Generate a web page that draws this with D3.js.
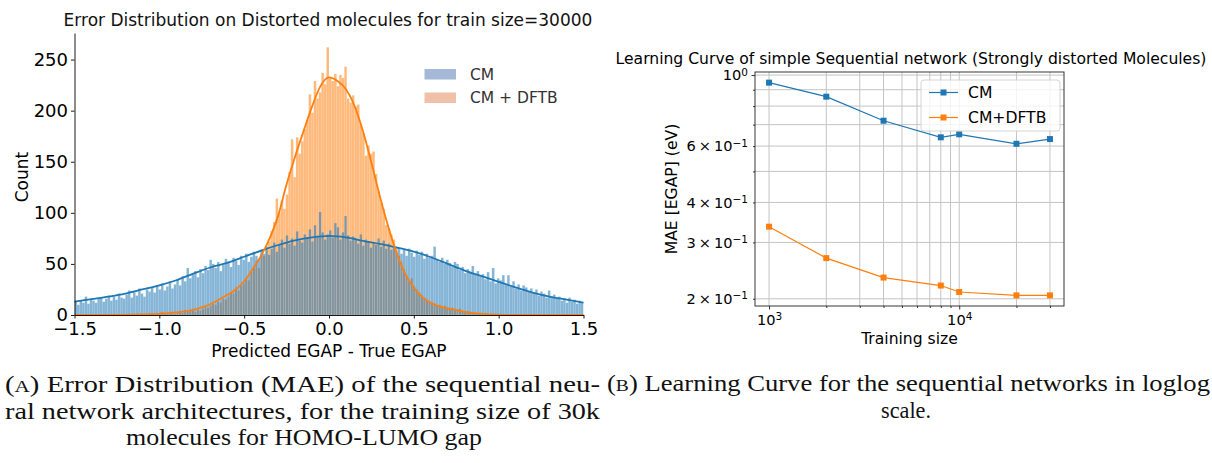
<!DOCTYPE html>
<html>
<head>
<meta charset="utf-8">
<script src="https://cdn.jsdelivr.net/npm/d3@7"></script>
<style>
  body { margin: 0; background: #fff; }
  svg { display: block; }
  text { font-family: "DejaVu Sans", sans-serif; }
  text.cap { font-family: "Liberation Serif", serif; fill: #111; }
</style>
</head>
<body>
<svg id="fig" width="1212" height="463"></svg>
<script>
// ---------- Error distribution histogram (train size 30000) ----------
const binStart = -1.5;
const binWidth = 0.015;

// counts per bin, CM model
const countsCM = [
  13, 10, 14, 12, 18, 11, 15, 14, 12, 16,
  17, 13, 16, 19, 14, 18, 15, 21, 17, 16,
  20, 24, 17, 22, 19, 26, 21, 18, 25, 23,
  27, 22, 29, 25, 31, 24, 28, 33, 26, 30,
  35, 29, 38, 33, 46, 36, 40, 43, 37, 45,
  41, 48, 44, 54, 50, 46, 52, 43, 49, 55,
  51, 47, 56, 53, 49, 58, 54, 60, 52, 57,
  62, 58, 55, 64, 60, 67, 59, 65, 71, 62,
  69, 74, 66, 78, 70, 75, 68, 82, 73, 71,
  79, 76, 84, 72, 88, 77, 101, 81, 74, 79,
  83, 76, 90, 86, 74, 81, 97, 78, 73, 77,
  75, 70, 79, 68, 74, 72, 66, 71, 69, 75,
  67, 73, 65, 70, 64, 68, 62, 66, 60, 64,
  58, 65, 61, 57, 63, 59, 62, 55, 60, 56,
  58, 67, 55, 52, 56, 50, 54, 51, 47, 52,
  50, 44, 47, 41, 45, 42, 48, 40, 43, 38,
  40, 35, 42, 33, 46, 31, 36, 34, 39, 30,
  39, 28, 33, 26, 30, 24, 29, 27, 23, 26,
  22, 25, 19, 23, 21, 17, 24, 18, 20, 16,
  18, 14, 16, 12, 17, 13, 15, 11, 14, 12
];

// counts per bin, CM + DFTB model
const countsDFTB = [
  0, 0, 0, 0, 0, 0, 0, 0, 0, 0,
  0, 0, 0, 0, 0, 0, 0, 0, 0, 0,
  0, 1, 0, 0, 1, 0, 1, 1, 0, 2,
  1, 1, 2, 0, 3, 1, 2, 3, 2, 1,
  3, 4, 2, 5, 3, 4, 6, 3, 5, 4,
  6, 8, 7, 9, 11, 10, 13, 12, 16, 15,
  18, 22, 21, 27, 24, 29, 31, 36, 34, 42,
  48, 53, 46, 60, 58, 64, 72, 82, 91, 114,
  100, 112, 104, 118, 140, 172, 135, 174, 158, 170,
  182, 191, 216, 198, 229, 212, 218, 237, 226, 262,
  233, 229, 236, 224, 235, 232, 243, 212, 208, 215,
  204, 206, 187, 178, 156, 166, 158, 160, 138, 121,
  110, 104, 88, 85, 79, 74, 67, 58, 52, 45,
  39, 33, 36, 28, 25, 22, 19, 17, 15, 13,
  12, 11, 9, 10, 8, 9, 7, 6, 7, 5,
  5, 6, 4, 3, 4, 2, 3, 2, 1, 2,
  1, 2, 0, 1, 1, 0, 1, 0, 0, 0,
  0, 0, 0, 0, 0, 0, 0, 0, 0, 0,
  0, 0, 0, 0, 0, 0, 0, 0, 0, 0,
  0, 0, 0, 0, 0, 0, 0, 0, 0, 0
];

// kernel density estimates, scaled to counts
const kdeGridCM = [-1.5, -1.4, -1.3, -1.2, -1.1, -1.0, -0.9, -0.8, -0.7, -0.6, -0.5,
  -0.4, -0.3, -0.2, -0.1, 0.0, 0.1, 0.2, 0.3, 0.4, 0.5,
  0.6, 0.7, 0.8, 0.9, 1.0, 1.1, 1.2, 1.3, 1.4, 1.5];
const kdeCM = [13, 15.5, 18, 21, 25, 29, 34, 40.5, 46.5, 51, 57,
  63, 68.5, 73, 76, 77.5, 76, 72.5, 69.5, 66, 62,
  56.5, 50, 43.5, 38, 32.5, 27, 22, 18, 15, 12];

const kdeGridDFTB = [-1.5, -1.3, -1.1, -1.0, -0.9, -0.8, -0.75, -0.7, -0.65, -0.6, -0.55,
  -0.5, -0.45, -0.4, -0.35, -0.3, -0.25, -0.2, -0.15, -0.1, -0.05, 0.0,
  0.05, 0.1, 0.15, 0.2, 0.25, 0.3, 0.35, 0.4, 0.45, 0.5, 0.55, 0.6,
  0.65, 0.7, 0.75, 0.8, 0.9, 1.0, 1.1, 1.3, 1.5];
const kdeDFTB = [0, 0.1, 0.5, 1.2, 2.5, 5, 7.5, 10.5, 15, 19.5, 25,
  33, 45, 58, 75, 97, 128, 155, 180, 204, 224, 232.5,
  229, 221, 205, 180, 149, 116, 86, 60, 40, 27, 17.5, 12,
  8.5, 6.5, 5, 3, 1.2, 0.4, 0.1, 0, 0];

const histTicksX = [-1.5, -1.0, -0.5, 0.0, 0.5, 1.0, 1.5];
const histTicksY = [0, 50, 100, 150, 200, 250];
const histSeries = ["CM", "CM + DFTB"];

// ---------- Learning curve ----------
const trainSizes = [1000, 2000, 4000, 8000, 10000, 20000, 30000];
const maeCM = [0.947, 0.856, 0.720, 0.639, 0.653, 0.610, 0.631];
const maeDFTB = [0.336, 0.268, 0.233, 0.220, 0.210, 0.205, 0.205];
const curveSeries = ["CM", "CM+DFTB"];
const xMajor = [1000, 10000];
const xMinor = [2000, 3000, 4000, 5000, 6000, 7000, 8000, 9000, 20000, 30000];
const yMajor = [1.0];
const yMinor = [0.2, 0.3, 0.4, 0.5, 0.6, 0.7, 0.8, 0.9];
const yMinorLabeled = [0.2, 0.3, 0.4, 0.6];

const svg = d3.select("#fig");
const tab = { blue: "#1f77b4", orange: "#ff7f0e" };

// ================= left panel =================
const A = { left: 74.5, right: 583.5, top: 33, bottom: 315 };
const x1 = d3.scaleLinear().domain([-1.5, 1.5]).range([A.left, A.right]);
const y1 = d3.scaleLinear().domain([0, 276]).range([A.bottom, A.top]);

const gA = svg.append("g");
gA.append("clipPath").attr("id", "clipA")
  .append("rect").attr("x", A.left).attr("y", A.top)
  .attr("width", A.right - A.left).attr("height", A.bottom - A.top);

function drawBars(counts, color) {
  gA.append("g").attr("clip-path", "url(#clipA)")
    .selectAll("rect").data(counts).join("rect")
    .attr("x", (d, i) => x1(binStart + i * binWidth))
    .attr("width", (d, i) => x1(binStart + (i + 1) * binWidth) - x1(binStart + i * binWidth))
    .attr("y", d => y1(d))
    .attr("height", d => y1(0) - y1(d))
    .attr("fill", color).attr("fill-opacity", 0.55)
    .attr("stroke", "#fff").attr("stroke-opacity", 0.25).attr("stroke-width", 0.4);
}
drawBars(countsDFTB, tab.orange);
drawBars(countsCM, tab.blue);

const kdeLine = d3.line().x(d => x1(d[0])).y(d => y1(d[1])).curve(d3.curveMonotoneX);
gA.append("path").datum(d3.zip(kdeGridCM, kdeCM))
  .attr("d", kdeLine).attr("fill", "none").attr("stroke", tab.blue).attr("stroke-width", 1.8);
gA.append("path").datum(d3.zip(kdeGridDFTB, kdeDFTB))
  .attr("d", kdeLine).attr("fill", "none").attr("stroke", tab.orange).attr("stroke-width", 1.8);

const axA_x = gA.append("g").attr("transform", `translate(0,${A.bottom})`)
  .call(d3.axisBottom(x1).tickValues(histTicksX).tickFormat(d3.format(".1f"))
    .tickSize(3.5).tickSizeOuter(0).tickPadding(3.5));
const axA_y = gA.append("g").attr("transform", `translate(${A.left},0)`)
  .call(d3.axisLeft(y1).tickValues(histTicksY).tickSize(3.5).tickSizeOuter(0).tickPadding(3));
[axA_x, axA_y].forEach(ax => {
  ax.selectAll("text").attr("font-size", 18).attr("fill", "#000")
    .attr("font-family", "DejaVu Sans, sans-serif");
  ax.selectAll("line, path").attr("stroke", "#000").attr("stroke-width", 0.9);
});

gA.append("text").attr("x", (A.left + A.right) / 2).attr("y", 357)
  .attr("text-anchor", "middle").attr("font-size", 17).text("Predicted EGAP - True EGAP");
gA.append("text").attr("transform", `translate(28,${(A.top + A.bottom) / 2 + 3}) rotate(-90)`)
  .attr("text-anchor", "middle").attr("font-size", 17).text("Count");
gA.append("text").attr("x", (A.left + A.right) / 2 - 1).attr("y", 26)
  .attr("text-anchor", "middle").attr("font-size", 17).attr("fill", "#111")
  .text("Error Distribution on Distorted molecules for train size=30000");

// legend (patches)
const legA = gA.append("g");
const legAColors = ["#4c72b0", "#dd8452"];
histSeries.forEach((name, i) => {
  const yy = 69 + i * 23.5;
  legA.append("rect").attr("x", 424.5).attr("y", yy).attr("width", 31.5).attr("height", 10.5)
    .attr("fill", legAColors[i]).attr("fill-opacity", 0.5);
  legA.append("text").attr("x", 470).attr("y", yy + 10.5).attr("font-size", 15.5)
    .attr("fill", "#333").text(name);
});

// ================= right panel =================
const B = { left: 755, right: 1064, top: 72, bottom: 306 };
const lx = d3.extent(trainSizes).map(Math.log10);
const px = (lx[1] - lx[0]) * 0.05;
const x2 = d3.scaleLog().domain([10 ** (lx[0] - px), 10 ** (lx[1] + px)]).range([B.left, B.right]);
const ly = d3.extent(maeCM.concat(maeDFTB)).map(Math.log10);
const py = (ly[1] - ly[0]) * 0.05;
const y2 = d3.scaleLog().domain([10 ** (ly[0] - py), 10 ** (ly[1] + py)]).range([B.bottom, B.top]);
const fsB = 15.6;
const fsTick = 14.6;

const gB = svg.append("g");
// grid (major and minor)
gB.append("g").selectAll("line").data(xMajor.concat(xMinor)).join("line")
  .attr("x1", d => x2(d)).attr("x2", d => x2(d)).attr("y1", B.top).attr("y2", B.bottom)
  .attr("stroke", "#c4c4c4").attr("stroke-width", 1);
gB.append("g").selectAll("line").data(yMajor.concat(yMinor)).join("line")
  .attr("y1", d => y2(d)).attr("y2", d => y2(d)).attr("x1", B.left).attr("x2", B.right)
  .attr("stroke", "#c4c4c4").attr("stroke-width", 1);

function sciLabel(sel) {
  sel.each(function (d) {
    const t = d3.select(this);
    t.text(null);
    const e = Math.floor(Math.log10(d) + 1e-9);
    const m = Math.round(d / 10 ** e);
    t.append("tspan").text(m === 1 ? "10" : m + "\u2009\u00d7\u200910");
    t.append("tspan").attr("dy", "-0.45em").attr("font-size", "0.72em")
      .text(e < 0 ? "\u2212" + (-e) : String(e));
  });
}

function styleAxis(ax) {
  ax.select(".domain").remove();
  ax.selectAll("line").attr("stroke", "#000").attr("stroke-width", 0.8);
  ax.selectAll("text").attr("font-size", fsTick).attr("fill", "#000")
    .attr("font-family", "DejaVu Sans, sans-serif");
}

const bx1 = gB.append("g").attr("transform", `translate(0,${B.bottom})`)
  .call(d3.axisBottom(x2).tickValues(xMajor).tickSize(3.5).tickPadding(5));
styleAxis(bx1); bx1.selectAll(".tick text").call(sciLabel);
const bx2 = gB.append("g").attr("transform", `translate(0,${B.bottom})`)
  .call(d3.axisBottom(x2).tickValues(xMinor).tickSize(2).tickFormat(""));
styleAxis(bx2);
const by1 = gB.append("g").attr("transform", `translate(${B.left},0)`)
  .call(d3.axisLeft(y2).tickValues(yMajor).tickSize(3.5).tickPadding(3.5));
styleAxis(by1); by1.selectAll(".tick text").call(sciLabel);
const by2 = gB.append("g").attr("transform", `translate(${B.left},0)`)
  .call(d3.axisLeft(y2).tickValues(yMinor).tickSize(2).tickPadding(5)
    .tickFormat(d => yMinorLabeled.includes(d) ? d : ""));
styleAxis(by2);
by2.selectAll(".tick text").filter(d => yMinorLabeled.includes(d)).call(sciLabel);

// series
const curveLine = d3.line().x(d => x2(d[0])).y(d => y2(d[1]));
[[maeCM, tab.blue], [maeDFTB, tab.orange]].forEach(([vals, color]) => {
  const pts = d3.zip(trainSizes, vals);
  gB.append("path").datum(pts).attr("d", curveLine)
    .attr("fill", "none").attr("stroke", color).attr("stroke-width", 1.2);
  gB.append("g").selectAll("rect").data(pts).join("rect")
    .attr("x", d => x2(d[0]) - 3).attr("y", d => y2(d[1]) - 3)
    .attr("width", 6).attr("height", 6).attr("fill", color);
});

// frame
gB.append("rect").attr("x", B.left).attr("y", B.top)
  .attr("width", B.right - B.left).attr("height", B.bottom - B.top)
  .attr("fill", "none").attr("stroke", "#222").attr("stroke-width", 0.9);

// legend
const legB = gB.append("g");
legB.append("rect").attr("x", 921).attr("y", 80).attr("width", 139).attr("height", 51)
  .attr("rx", 3).attr("fill", "#fff").attr("fill-opacity", 0.8)
  .attr("stroke", "#d0d0d0").attr("stroke-width", 0.9);
curveSeries.forEach((name, i) => {
  const yy = 92.5 + i * 25;
  const color = i === 0 ? tab.blue : tab.orange;
  legB.append("line").attr("x1", 929).attr("x2", 958).attr("y1", yy).attr("y2", yy)
    .attr("stroke", color).attr("stroke-width", 1.2);
  legB.append("rect").attr("x", 940.5).attr("y", yy - 3).attr("width", 6).attr("height", 6)
    .attr("fill", color);
  legB.append("text").attr("x", 968).attr("y", yy + 5.5).attr("font-size", fsB)
    .attr("fill", "#000").text(name);
});

gB.append("text").attr("x", (B.left + B.right) / 2).attr("y", 344)
  .attr("text-anchor", "middle").attr("font-size", fsB).text("Training size");
gB.append("text").attr("transform", `translate(677,${(B.top + B.bottom) / 2}) rotate(-90)`)
  .attr("text-anchor", "middle").attr("font-size", fsB).text("MAE [EGAP] (eV)");
gB.append("text").attr("x", 911).attr("y", 64)
  .attr("text-anchor", "middle").attr("font-size", fsB).attr("fill", "#000")
  .text("Learning Curve of simple Sequential network (Strongly distorted Molecules)");

// ================= captions =================
function capLine(x, y, parts, width, anchor) {
  const t = svg.append("text").attr("class", "cap").attr("x", x).attr("y", y)
    .attr("font-size", 22.5).attr("text-anchor", anchor || "start");
  parts.forEach(p => {
    const s = t.append("tspan").text(p.t);
    if (p.small) s.attr("font-size", 16.5);
  });
  if (width) t.attr("textLength", width).attr("lengthAdjust", "spacingAndGlyphs");
  return t;
}
capLine(5, 392, [{ t: "(" }, { t: "A", small: true }, { t: ") Error Distribution (MAE) of the sequential neu-" }], 595);
capLine(5, 419, [{ t: "ral network architectures, for the training size of 30k" }], 595);
capLine(304, 445, [{ t: "molecules for HOMO-LUMO gap" }], 356, "middle");
capLine(607, 391, [{ t: "(" }, { t: "B", small: true }, { t: ") Learning Curve for the sequential networks in loglog" }], 603);
capLine(906, 418, [{ t: "scale." }], 50, "middle");
</script>
</body>
</html>
